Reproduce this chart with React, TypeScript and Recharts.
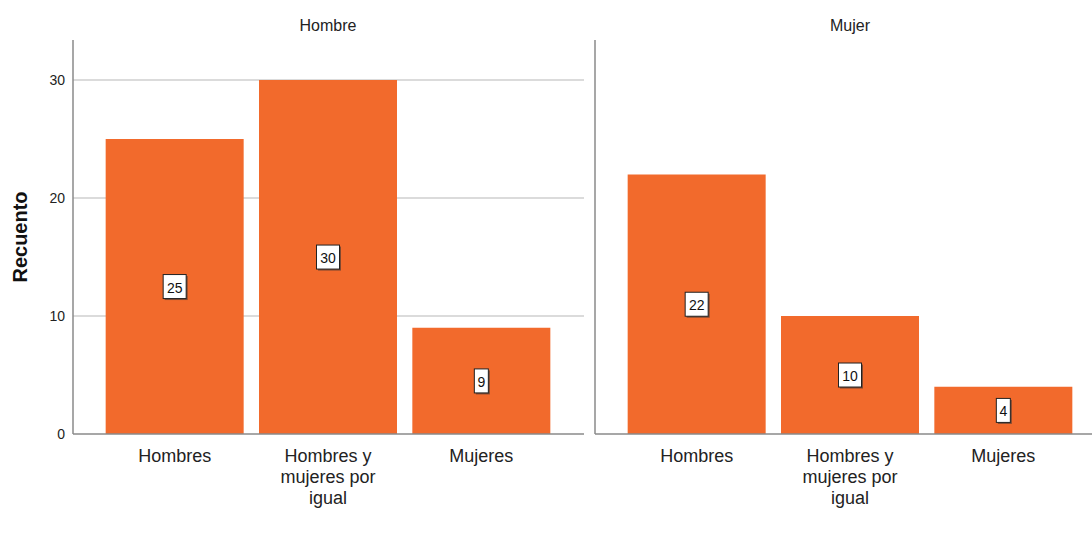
import { Bar, BarChart, CartesianGrid, LabelList, Text, XAxis, YAxis } from 'recharts';

const categories = ['Hombres', 'Hombres y mujeres por igual', 'Mujeres'];
const hombreCounts = [25, 30, 9];
const mujerCounts = [22, 10, 4];
const panelTitles = ['Hombre', 'Mujer'];
const yTicks = [0, 10, 20, 30];
const gridValues = [10, 20, 30];
const yTitle = 'Recuento';

const FONT = '"Liberation Sans", Arial, sans-serif';
const BAR = '#F26A2C';
const AXIS = '#8a8a8a';
const GRID = '#cfcfcf';

const hombreData = categories.map((name, i) => ({ name, count: hombreCounts[i] }));
const mujerData = categories.map((name, i) => ({ name, count: mujerCounts[i] }));

const CategoryTick = (props: any) => {
  const { x, y, payload } = props;
  return (
    <Text
      x={x}
      y={y + 7}
      width={120}
      textAnchor="middle"
      verticalAnchor="start"
      lineHeight={21}
      style={{ fontSize: 18, fontFamily: FONT }}
      fill="#222"
    >
      {payload.value}
    </Text>
  );
};

const ValueBox = (props: any) => {
  const { x, y, width, height, value } = props;
  const cx = x + width / 2;
  const cy = y + height / 2;
  const w = String(value).length > 1 ? 23 : 14;
  const h = 24;
  return (
    <g>
      <rect x={cx - w / 2 + 1.5} y={cy - h / 2 + 1.5} width={w} height={h} fill="#333" opacity={0.6} />
      <rect x={cx - w / 2} y={cy - h / 2} width={w} height={h} fill="#fff" stroke="#222" strokeWidth={1} />
      <text
        x={cx}
        y={cy + 1}
        textAnchor="middle"
        dominantBaseline="central"
        fontSize={14}
        fontFamily={FONT}
        fill="#111"
      >
        {value}
      </text>
    </g>
  );
};

const Panel = ({ data, showTicks, width }: { data: any[]; showTicks: boolean; width: number }) => (
  <BarChart
    width={width}
    height={548}
    data={data}
    margin={{ top: 40, right: 0, bottom: 0, left: 0 }}
    barCategoryGap="5%"
  >
    <CartesianGrid vertical={false} horizontalValues={gridValues} stroke={GRID} strokeWidth={1.5} />
    <XAxis
      dataKey="name"
      height={114}
      padding={{ left: 25, right: 26 }}
      axisLine={{ stroke: AXIS, strokeWidth: 1.5 }}
      tickLine={false}
      interval={0}
      tick={<CategoryTick />}
    />
    <YAxis
      width={showTicks ? 73 : 10}
      domain={[0, 33.4]}
      ticks={yTicks}
      axisLine={{ stroke: AXIS, strokeWidth: 1.5 }}
      tickLine={false}
      tick={showTicks ? { fontSize: 14, fill: '#222', fontFamily: FONT } : false}
    />
    <Bar dataKey="count" fill={BAR} isAnimationActive={false}>
      <LabelList dataKey="count" content={<ValueBox />} />
    </Bar>
  </BarChart>
);

export default function App() {
  return (
    <div
      style={{
        position: 'absolute',
        left: 0,
        top: 0,
        width: 1092,
        height: 548,
        overflow: 'hidden',
        background: '#fff',
        fontFamily: FONT,
      }}
    >
      <div style={{ position: 'absolute', left: 0, top: 0 }}>
        <Panel data={hombreData} showTicks width={584} />
      </div>
      <div style={{ position: 'absolute', left: 585, top: 0 }}>
        <Panel data={mujerData} showTicks={false} width={521} />
      </div>
      <svg
        width={1092}
        height={548}
        style={{ position: 'absolute', left: 0, top: 0, pointerEvents: 'none' }}
      >
        <text x={328} y={31} textAnchor="middle" fontSize={16} fontFamily={FONT} fill="#222">
          {panelTitles[0]}
        </text>
        <text x={850} y={31} textAnchor="middle" fontSize={16} fontFamily={FONT} fill="#222">
          {panelTitles[1]}
        </text>
        <text
          x={0}
          y={0}
          transform="translate(27 237) rotate(-90)"
          textAnchor="middle"
          fontSize={20}
          fontWeight="bold"
          fontFamily={FONT}
          fill="#111"
        >
          {yTitle}
        </text>
      </svg>
    </div>
  );
}
